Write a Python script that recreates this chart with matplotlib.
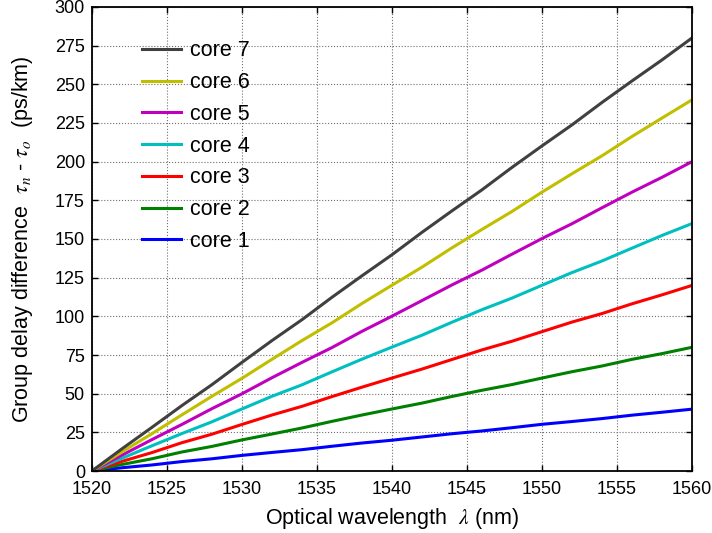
#!/usr/bin/env python
# group delay difference of the 7 cores vs wavelength

import numpy as np
import matplotlib as mpl
mpl.use('Agg')
import matplotlib.pyplot as plt
from matplotlib.ticker import MultipleLocator as mtloc

Xmin,Xmax,Xmajor=1520,1560,5
Ymin,Ymax,Ymajor=0,300,25
FigSize=(7.12,5.33)
TickSize,LabelSize,LegSize=13,15.5,15.5

plt.rcParams['font.family']=['Liberation Sans','DejaVu Sans']
plt.rcParams['mathtext.fontset']='stix'

wl = [1520,1522,1524,1526,1528,1530,1532,1534,1536,1538,1540,
      1542,1544,1546,1548,1550,1552,1554,1556,1558,1560]

core1 = [0,2.1,3.9,6.1,7.9,10.1,12.0,13.8,16.0,18.1,19.9,
         22.0,24.1,25.9,28.0,30.2,32.0,33.9,36.1,38.0,40.0]
core2 = [0,4.2,7.9,12.3,15.9,20.1,23.9,27.8,32.1,36.2,40.1,
         43.9,48.2,52.2,55.9,60.1,64.2,67.9,72.2,75.9,80.0]
core3 = [0,6.2,11.9,18.3,23.8,30.1,36.2,41.8,48.1,54.2,60.1,
         65.9,72.1,78.3,83.9,90.1,96.3,101.8,108.1,113.9,120.0]
core4 = [0,8.2,16.3,24.2,31.8,40.1,48.3,55.7,64.1,72.3,80.1,
         87.8,96.2,104.3,111.8,120.1,128.3,135.8,144.1,152.3,160.0]
core5 = [0,10.2,20.3,30.1,40.3,49.9,60.3,70.2,79.8,90.3,100.1,
         110.2,120.3,129.9,140.2,150.3,159.9,170.2,180.3,189.9,200.0]
core6 = [0,12.3,24.1,36.3,48.3,59.9,72.2,84.3,95.8,108.3,120.1,
         131.8,144.3,156.2,167.8,180.3,192.2,203.8,216.3,228.2,240.0]
core7 = [0,14.3,28.2,42.3,55.8,70.2,84.3,97.8,112.3,126.2,139.8,
         154.3,168.2,181.8,196.3,210.2,223.8,238.3,252.2,265.8,280.0]

cores = [core1,core2,core3,core4,core5,core6,core7]
names = ['core 1','core 2','core 3','core 4','core 5','core 6','core 7']
colors = ['#0000ff','#008000','#ff0000','#00bfbf','#bf00bf','#bfbf00','#404040']

def plot():
    fig = plt.figure(figsize=FigSize,dpi=100)
    ax = fig.add_axes([0.129,0.1163,0.843,0.8706])
    lines = []
    for y,nm,c in zip(cores,names,colors):
        l, = ax.plot(wl,y,color=c,lw=2.2,label=nm)
        lines.append(l)
    # format, matlab-like box with inward ticks
    ax.set_xlim((Xmin,Xmax))
    ax.set_ylim((Ymin,Ymax))
    ax.xaxis.set_major_locator(mtloc(Xmajor))
    ax.yaxis.set_major_locator(mtloc(Ymajor))
    ax.tick_params(direction='in',top=True,right=True,labelsize=TickSize,length=4,width=1)
    ax.tick_params(axis='x',pad=7)
    ax.tick_params(axis='y',pad=5)
    ax.grid(True,color='#707070',ls=':',lw=0.8)
    for s in ax.spines.values():
        s.set_linewidth(1.3)
    ax.set_xlabel(r'Optical wavelength  $\lambda$ (nm)',fontsize=LabelSize,labelpad=6)
    ax.set_ylabel(r'Group delay difference  $\tau_n$ - $\tau_o$  (ps/km)',fontsize=LabelSize,labelpad=14)
    ax.legend(lines[::-1],names[::-1],loc='upper left',bbox_to_anchor=(0.083,0.928),
              frameon=False,fontsize=LegSize,handlelength=1.85,labelspacing=0.5,
              handletextpad=0.4,borderpad=0,borderaxespad=0)
    fig.savefig('out.png',dpi=100)

if __name__=='__main__':
    plot()
